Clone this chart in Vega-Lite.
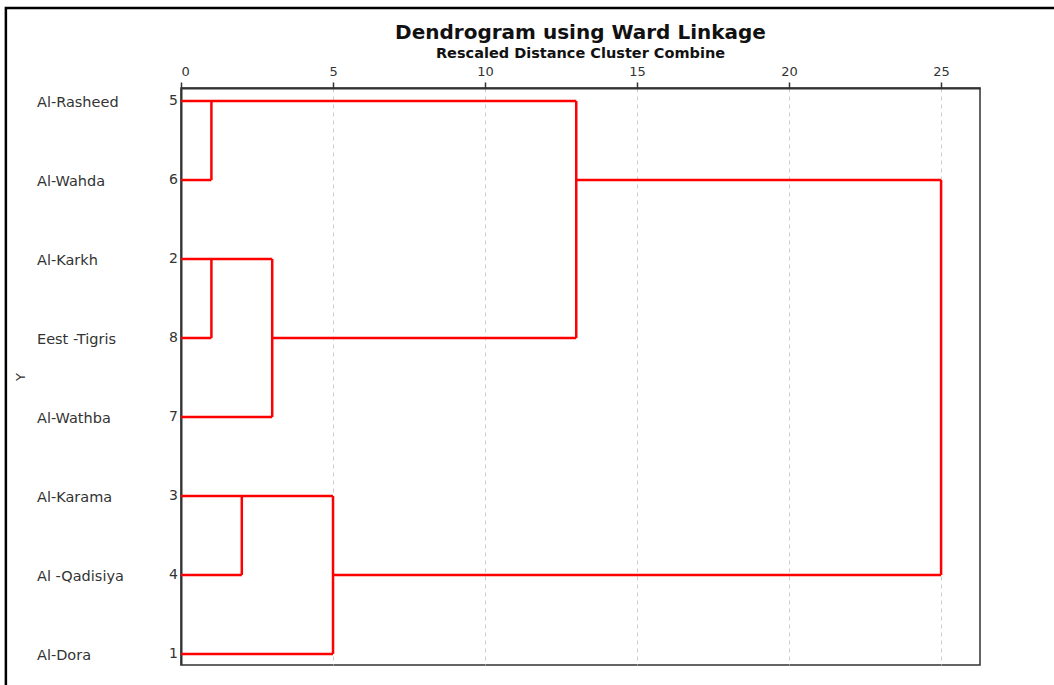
{
  "$schema": "https://vega.github.io/schema/vega-lite/v6.json",
  "autosize": {"type": "none"},
  "width": 799,
  "height": 577,
  "padding": {"left": 181, "top": 88, "right": 74, "bottom": 20},
  "background": "white",
  "config": {
    "font": "DejaVu Sans",
    "view": {"stroke": "#333333", "strokeWidth": 1.5}
  },
  "title": {
    "text": "Dendrogram using Ward Linkage",
    "subtitle": "Rescaled Distance Cluster Combine",
    "anchor": "middle",
    "frame": "group",
    "font": "DejaVu Sans",
    "fontSize": 20,
    "fontWeight": "bold",
    "color": "#111111",
    "subtitleFont": "DejaVu Sans",
    "subtitleFontSize": 14.5,
    "subtitleFontWeight": "bold",
    "subtitleColor": "#111111",
    "subtitlePadding": 4,
    "offset": -54
  },
  "datasets": {
    "segments": [
      {"x": 0, "x2": 13, "y": 0, "y2": 0},
      {"x": 0, "x2": 1, "y": 1, "y2": 1},
      {"x": 1, "x2": 1, "y": 0, "y2": 1},
      {"x": 0, "x2": 3, "y": 2, "y2": 2},
      {"x": 0, "x2": 1, "y": 3, "y2": 3},
      {"x": 1, "x2": 1, "y": 2, "y2": 3},
      {"x": 0, "x2": 3, "y": 4, "y2": 4},
      {"x": 3, "x2": 3, "y": 2, "y2": 4},
      {"x": 3, "x2": 13, "y": 3, "y2": 3},
      {"x": 13, "x2": 13, "y": 0, "y2": 3},
      {"x": 13, "x2": 25, "y": 1, "y2": 1},
      {"x": 0, "x2": 5, "y": 5, "y2": 5},
      {"x": 0, "x2": 2, "y": 6, "y2": 6},
      {"x": 2, "x2": 2, "y": 5, "y2": 6},
      {"x": 0, "x2": 5, "y": 7, "y2": 7},
      {"x": 5, "x2": 5, "y": 5, "y2": 7},
      {"x": 5, "x2": 25, "y": 6, "y2": 6},
      {"x": 25, "x2": 25, "y": 1, "y2": 6}
    ],
    "leaves": [
      {"row": 0, "case": "5", "name": "Al-Rasheed"},
      {"row": 1, "case": "6", "name": "Al-Wahda"},
      {"row": 2, "case": "2", "name": "Al-Karkh"},
      {"row": 3, "case": "8", "name": "Eest -Tigris"},
      {"row": 4, "case": "7", "name": "Al-Wathba"},
      {"row": 5, "case": "3", "name": "Al-Karama"},
      {"row": 6, "case": "4", "name": "Al -Qadisiya"},
      {"row": 7, "case": "1", "name": "Al-Dora"}
    ]
  },
  "layer": [
    {
      "data": {"name": "segments"},
      "mark": {"type": "rule", "color": "#ff0000", "strokeWidth": 2.5},
      "encoding": {
        "x": {
          "field": "x", "type": "quantitative",
          "scale": {"domain": [0, 26.28], "nice": false, "zero": false},
          "axis": {
            "orient": "top", "title": null, "values": [0, 5, 10, 15, 20, 25],
            "grid": true, "gridDash": [4, 4], "gridColor": "#cccccc", "gridWidth": 1,
            "tickSize": 6, "tickColor": "#333333", "tickWidth": 1.5,
            "domainColor": "#333333", "domainWidth": 2,
            "labelFontSize": 13, "labelColor": "#333333", "labelPadding": 4,
            "labelFont": "DejaVu Sans"
          }
        },
        "x2": {"field": "x2"},
        "y": {
          "field": "y", "type": "quantitative",
          "scale": {"domain": [-0.165, 7.14], "reverse": true, "nice": false, "zero": false},
          "axis": {
            "orient": "left", "labels": false, "ticks": false, "grid": false,
            "domainColor": "#333333", "domainWidth": 2,
            "title": "Y", "titleFont": "DejaVu Sans", "titleFontWeight": "normal",
            "titleFontSize": 13, "titleColor": "#333333", "titlePadding": 154
          }
        },
        "y2": {"field": "y2"}
      }
    },
    {
      "data": {"name": "leaves"},
      "mark": {"type": "text", "align": "right", "baseline": "middle", "dx": -3, "fontSize": 14, "color": "#333333", "font": "DejaVu Sans"},
      "encoding": {
        "x": {"datum": 0, "type": "quantitative"},
        "y": {"field": "row", "type": "quantitative"},
        "text": {"field": "case"}
      }
    },
    {
      "data": {"name": "leaves"},
      "mark": {"type": "text", "align": "left", "baseline": "middle", "dy": 2, "fontSize": 14.5, "color": "#333333", "font": "DejaVu Sans"},
      "encoding": {
        "x": {"datum": -4.737, "type": "quantitative"},
        "y": {"field": "row", "type": "quantitative"},
        "text": {"field": "name"}
      }
    },
    {
      "data": {"values": [{}]},
      "mark": {"type": "rect", "fill": null, "stroke": "#000000", "strokeWidth": 2.5, "clip": false},
      "encoding": {
        "x": {"datum": -5.76, "type": "quantitative"},
        "x2": {"datum": 30},
        "y": {"datum": -1.178, "type": "quantitative"},
        "y2": {"datum": 8}
      }
    }
  ]
}
